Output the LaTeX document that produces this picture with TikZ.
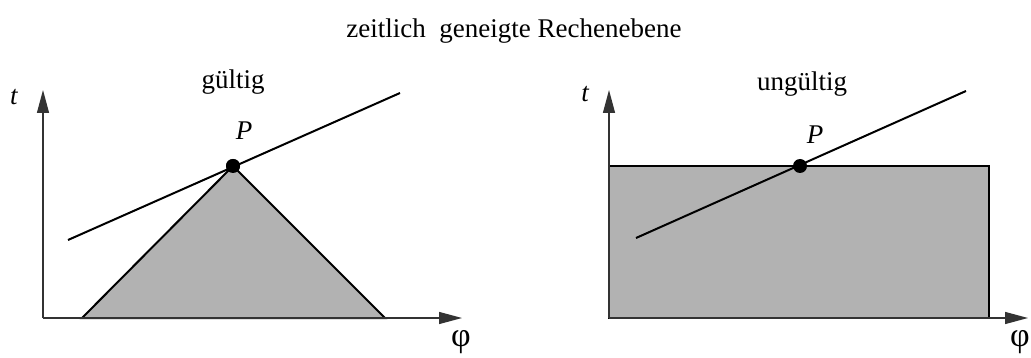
\documentclass[tikz,border=0pt]{standalone}
\usepackage{fontspec}
\setmainfont{Liberation Serif}
\usetikzlibrary{arrows.meta}
\definecolor{shade}{gray}{0.70}
\tikzset{
  axis/.style={line width=1.3pt, draw=black!80, -{Triangle[length=23pt,width=12pt]}},
  area/.style={line width=2pt, fill=shade, draw=black},
  tline/.style={line width=2pt},
  dot/.style={circle, fill=black, inner sep=0pt, minimum size=14pt},
  lbl/.style={font=\fontsize{27}{32}\selectfont, inner sep=0pt},
  philbl/.style={font=\fontsize{34}{38}\selectfont, inner sep=0pt},
}
\begin{document}
\begin{tikzpicture}[x=1pt,y=-1pt]
\useasboundingbox (0,0) rectangle (1031,358);
\node[lbl] (title) at (514,31) {zeitlich\ \ geneigte Rechenebene};
% left panel
\coordinate (lo) at (43,318);
\coordinate (ly) at (43,90);
\coordinate (lx) at (462,318);
\coordinate (ta) at (82,318);
\coordinate (tb) at (385,318);
\node[dot] (p1) at (233,166) {};
\draw[area] (ta) -- (p1.center) -- (tb) -- cycle;
\draw[axis] (lo) -- (ly);
\draw[axis] (lo) -- (lx);
\coordinate (l1a) at (68,240);
\coordinate (l1b) at (400,93);
\draw[tline] (l1a) -- (l1b);
\node[dot] at (p1) {};
\node[lbl] (t1) at (14,97) {\itshape t};
\node[philbl] (f1) at (461,342) {φ};
\node[lbl] (P1) at (244,131) {\itshape P};
\node[lbl] (g1) at (233,82) {gültig};
% right panel
\coordinate (ro) at (609,318);
\coordinate (ry) at (609,90);
\coordinate (rx) at (1028,318);
\node[minimum width=380pt, minimum height=152pt, inner sep=0pt, line width=2pt, fill=shade, draw=black] (rect) at (799,242) {};
\draw[axis] (ro) -- (ry);
\draw[axis] (ro) -- (rx);
\coordinate (l2a) at (636,238);
\coordinate (l2b) at (966,91);
\draw[tline] (l2a) -- (l2b);
\node[dot] (p2) at (800,166) {};
\node[lbl] (t2) at (585,94) {\itshape t};
\node[philbl] (f2) at (1020,342) {φ};
\node[lbl] (P2) at (815,135) {\itshape P};
\node[lbl] (g2) at (802,84) {ungültig};
\end{tikzpicture}
\end{document}
